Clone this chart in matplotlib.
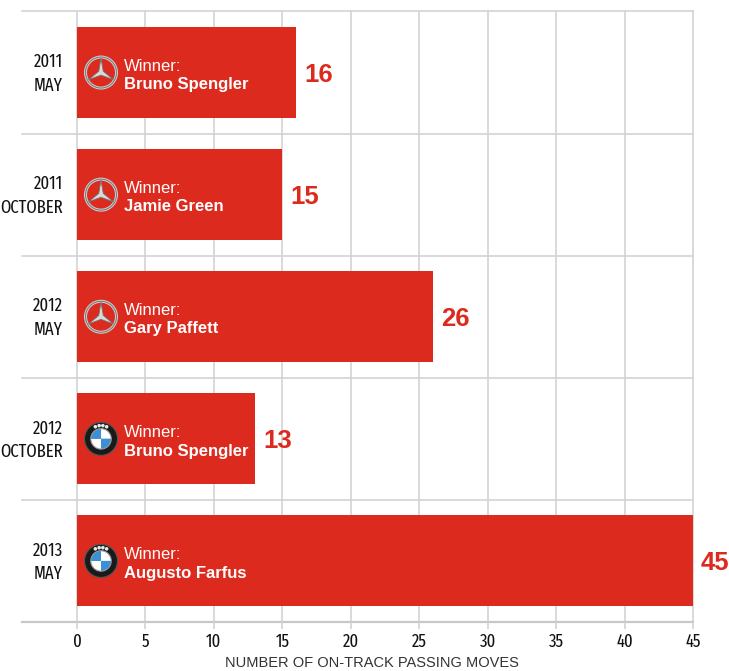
import matplotlib
matplotlib.use("Agg")
import matplotlib.pyplot as plt
import matplotlib.patches as mpatches
import matplotlib.transforms as mtransforms
import numpy as np

# data
races = ["2011\nMAY", "2011\nOCTOBER", "2012\nMAY", "2012\nOCTOBER", "2013\nMAY"]
winners = ["Bruno Spengler", "Jamie Green", "Gary Paffett", "Bruno Spengler", "Augusto Farfus"]
makes = ["mercedes", "mercedes", "mercedes", "bmw", "bmw"]
moves = [16, 15, 26, 13, 45]
xticks = [0, 5, 10, 15, 20, 25, 30, 35, 40, 45]

RED = "#dd2a1e"
GRID = "#d3d3d3"
COND = ["Fira Sans Extra Condensed", "Roboto Condensed", "Liberation Sans", "DejaVu Sans"]
SANS = ["Liberation Sans", "DejaVu Sans"]

W, H = 729, 671
fig = plt.figure(figsize=(W / 100, H / 100), dpi=100)

# axes in pixel terms: left 15, right 729, top 11.5, bottom 622
ax = fig.add_axes([15 / W, (H - 622) / H, (729 - 15) / W, (622 - 11.5) / H])
px_per_unit = (693 - 77) / 45.0
ax.set_xlim((15 - 77) / px_per_unit, (729 - 77) / px_per_unit)
ax.set_ylim(len(races) - 0.5, -0.5)
for s in ax.spines.values():
    s.set_visible(False)

y = np.arange(len(races))
x_left = (22 - 77) / px_per_unit

# grid
for xv in xticks:
    ax.plot([xv, xv], [-0.5, len(races) - 0.5], color=GRID, lw=1.2, zorder=0, clip_on=False)
for yv in np.arange(-0.5, len(races) - 0.5, 1.0):
    ax.plot([x_left, 45], [yv, yv], color=GRID, lw=1.2, zorder=0, clip_on=False)
ax.plot([x_left, 45], [len(races) - 0.5] * 2, color="#c8c8c8", lw=1.6, zorder=0, clip_on=False)

ax.barh(y, moves, height=0.745, color=RED, zorder=2)

ax.set_xticks(xticks)
ax.set_xticklabels([str(v) for v in xticks], family=COND, fontsize=13,
                   fontweight="normal", color="#111111")
ax.tick_params(axis="x", length=5, width=1.2, color=GRID, pad=3)
ax.set_yticks([])
ax.set_xlabel("NUMBER OF ON-TRACK PASSING MOVES", family=SANS, fontsize=10.5,
              color="#333333", labelpad=4)

# row labels, winners, values
for i in range(len(races)):
    ax.text(-14 / px_per_unit, y[i] + 0.01, races[i], ha="right", va="center", family=COND,
            fontsize=13, fontweight="normal", color="#111111", linespacing=1.4)
    ax.text(47 / px_per_unit, y[i] - 0.05, "Winner:", ha="left", va="center",
            family=SANS, fontsize=12, color="white", zorder=4)
    ax.text(47 / px_per_unit, y[i] + 0.1, winners[i], ha="left", va="center",
            family=SANS, fontsize=12, fontweight="bold", color="white", zorder=4)
    ax.text(moves[i] + 8 / px_per_unit, y[i] + 0.02, str(moves[i]), ha="left", va="center",
            family=SANS, fontsize=18.5, fontweight="bold", color=RED, zorder=4)


def logo_transform(xd, yd):
    return fig.dpi_scale_trans + mtransforms.ScaledTranslation(xd, yd, ax.transData)


def draw_mercedes(xd, yd):
    tr = logo_transform(xd, yd)
    R = 0.155
    ax.add_patch(mpatches.Circle((0, 0), R, fill=False, ec="#c9c9c9", lw=2.2,
                                 transform=tr, zorder=5))
    ax.add_patch(mpatches.Circle((0, 0), R, fill=False, ec="#6d6d6d", lw=0.6,
                                 transform=tr, zorder=6))
    pts = []
    for k in range(3):
        a_out = np.deg2rad(90 + 120 * k)
        a_in = np.deg2rad(150 + 120 * k)
        pts.append((0.93 * R * np.cos(a_out), 0.93 * R * np.sin(a_out)))
        pts.append((0.17 * R * np.cos(a_in), 0.17 * R * np.sin(a_in)))
    ax.add_patch(mpatches.Polygon(pts, closed=True, fc="#d9d9d9", ec="#707070",
                                  lw=0.6, transform=tr, zorder=6))


def draw_bmw(xd, yd):
    tr = logo_transform(xd, yd)
    R = 0.165
    ax.add_patch(mpatches.Circle((0, 0), R, fc="#1a1a1a", ec="#555555", lw=0.8,
                                 transform=tr, zorder=5))
    r = 0.62 * R
    # quadrants: top-right white, top-left blue, bottom-left white, bottom-right blue
    cols = ["#ffffff", "#3a8fd6", "#ffffff", "#3a8fd6"]
    for k in range(4):
        ax.add_patch(mpatches.Wedge((0, 0), r, 90 * k, 90 * (k + 1), fc=cols[k],
                                    ec="none", transform=tr, zorder=6))
    ax.add_patch(mpatches.Circle((0, 0), r, fill=False, ec="#9a9a9a", lw=0.8,
                                 transform=tr, zorder=7))
    for ang in [115, 98, 82, 65]:
        a = np.deg2rad(ang)
        ax.add_patch(mpatches.Circle((0.81 * R * np.cos(a), 0.81 * R * np.sin(a)), 0.018,
                                     fc="#e8e8e8", ec="none", transform=tr, zorder=7))


for i in range(len(races)):
    lx = (101 - 77) / px_per_unit
    if makes[i] == "mercedes":
        draw_mercedes(lx, y[i])
    else:
        draw_bmw(lx, y[i])

fig.savefig("out.png", dpi=100)
